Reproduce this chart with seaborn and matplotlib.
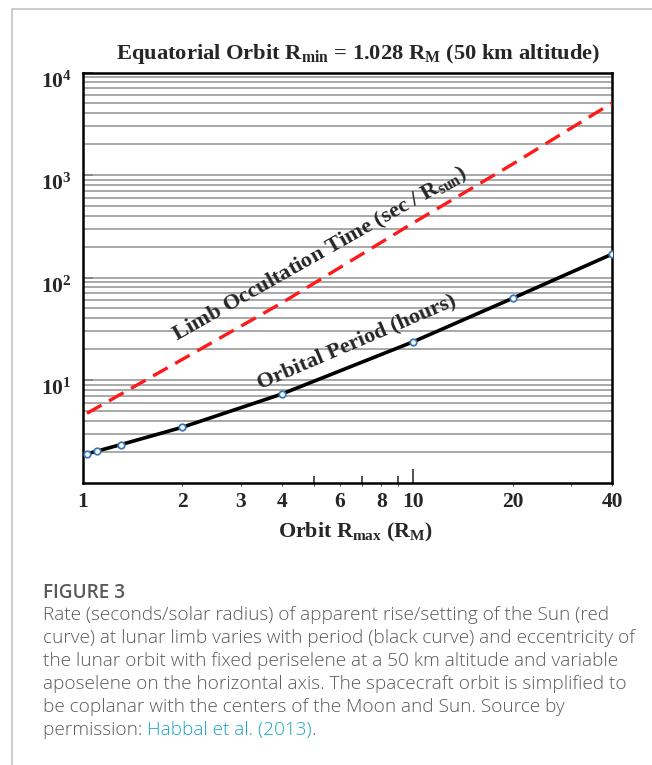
import numpy as np
import pandas as pd
import seaborn as sns
import matplotlib
matplotlib.use("Agg")
import matplotlib.pyplot as plt
from matplotlib.lines import Line2D
from matplotlib.transforms import ScaledTranslation
from matplotlib.ticker import FixedLocator, NullFormatter

# ---------------- data ----------------
period_x = [1.028, 1.1, 1.3, 2, 4, 10, 20, 40]
period_y = [1.90, 2.02, 2.34, 3.46, 7.30, 23.6, 62.7, 169]

occ_x = [1.028, 2, 4, 10, 20, 40]
occ_y = [4.73, 15.9, 56.5, 341, 1277, 5040]

x_ticks = [1, 2, 3, 4, 6, 8, 10, 20, 40]
x_tick_labels = ["1", "2", "3", "4", "6", "8", "10", "20", "40"]
y_ticks = [10, 100, 1000, 10000]
y_tick_labels = [r"$10^{1}$", r"$10^{2}$", r"$10^{3}$", r"$10^{4}$"]

title = r"Equatorial Orbit R$_{\rm min}$ = 1.028 R$_{\rm M}$ (50 km altitude)"
xlabel = r"Orbit R$_{\rm max}$ (R$_{\rm M}$)"
label_occ = r"Limb Occultation Time (sec / R$_{\rm sun}$)"
label_per = "Orbital Period (hours)"

caption_head = "FIGURE 3"
caption_lines = [
    "Rate (seconds/solar radius) of apparent rise/setting of the Sun (red",
    "curve) at lunar limb varies with period (black curve) and eccentricity of",
    "the lunar orbit with fixed periselene at a 50 km altitude and variable",
    "aposelene on the horizontal axis. The spacecraft orbit is simplified to",
    "be coplanar with the centers of the Moon and Sun. Source by",
    "permission: ",
]
caption_link = "Habbal et al. (2013)"
# --------------------------------------------------------------

sns.set_style("ticks")
plt.rcParams["font.family"] = ["Liberation Serif", "DejaVu Serif"]
plt.rcParams["mathtext.fontset"] = "custom"
plt.rcParams["mathtext.rm"] = "Liberation Serif:bold"
plt.rcParams["mathtext.it"] = "Liberation Serif:italic:bold"
plt.rcParams["mathtext.bf"] = "Liberation Serif:bold"

W, H = 652, 765
fig = plt.figure(figsize=(W / 100, H / 100), dpi=100)
fig.patch.set_facecolor("white")

def fx(px):
    return px / W

def fy(py):
    return 1 - py / H

ax = fig.add_axes([fx(83), fy(482.5), fx(612) - fx(83), fy(72.5) - fy(482.5)])
ax.set_xscale("log")
ax.set_yscale("log")
ax.set_xlim(1, 40)
ax.set_ylim(1, 10000)

# horizontal grid at every minor/major decade position
ax.yaxis.set_minor_locator(matplotlib.ticker.LogLocator(base=10, subs=np.arange(2, 10)))
ax.grid(True, which="both", axis="y", color="#a8a8a8", lw=1.4)
ax.grid(False, axis="x", which="both")
ax.set_axisbelow(True)

df_occ = pd.DataFrame({"x": occ_x, "y": occ_y})
df_per = pd.DataFrame({"x": period_x, "y": period_y})

sns.lineplot(data=df_occ, x="x", y="y", ax=ax, color="#ff1a1a", lw=2.4,
             linestyle="--", dashes=False, zorder=3)
ax.lines[-1].set_dashes([5.0, 2.6])
sns.lineplot(data=df_per, x="x", y="y", ax=ax, color="black", lw=2.6, zorder=4)
sns.scatterplot(data=df_per, x="x", y="y", ax=ax, s=22, marker="o",
                facecolor="white", edgecolor="#3a78b8", linewidth=1.3, zorder=5)

# ticks
ax.set_xticks(x_ticks)
ax.set_xticklabels(x_tick_labels)
ax.xaxis.set_minor_locator(FixedLocator([2, 3, 4, 5, 6, 7, 8, 9]))
ax.xaxis.set_minor_formatter(NullFormatter())
ax.tick_params(axis="x", which="major", length=0, pad=7, labelsize=15.5)
ax.tick_params(axis="x", which="minor", length=5, width=1.2, direction="in", color="#333333")
for lab in ax.get_xticklabels():
    lab.set_fontweight("bold")
sec = ax.secondary_xaxis("bottom")
sec.set_xticks([10])
sec.set_xticklabels([""])
sec.tick_params(length=10, width=1.2, direction="in", color="#333333")
sec.spines["bottom"].set_visible(False)

ax.set_yticks(y_ticks)
ax.set_yticklabels(y_tick_labels)
ax.tick_params(axis="y", which="major", length=7, width=1.4, direction="in",
               color="#888888", labelsize=15.5, pad=8)
ax.tick_params(axis="y", which="minor", length=0)
for lab in ax.get_yticklabels():
    lab.set_transform(lab.get_transform() + ScaledTranslation(0, -5 / 72, fig.dpi_scale_trans))

for s in ax.spines.values():
    s.set_color("black")
    s.set_linewidth(1.8)

ax.set_xlabel(xlabel, fontsize=15.8, fontweight="bold")
ax.xaxis.set_label_coords(0.515, -0.093)
ax.set_ylabel("")
ax.set_title(title, fontsize=16.2, fontweight="bold", pad=10, x=0.52)

# curve labels
ax.text(5.22, 166, label_occ, rotation=29.5, rotation_mode="anchor",
        ha="center", va="center", fontsize=16.2, fontweight="bold", zorder=6)
ax.text(6.76, 23.4, label_per, rotation=23.2, rotation_mode="anchor",
        ha="center", va="center", fontsize=16, fontweight="bold", zorder=6)

# page frame lines
fig.add_artist(Line2D([fx(12), fx(12)], [0, fy(9)], transform=fig.transFigure,
                      color="#c4c4c4", lw=1.2))
fig.add_artist(Line2D([fx(12), 1], [fy(9), fy(9)], transform=fig.transFigure,
                      color="#c4c4c4", lw=1.2))

# caption
cap_font = ["Open Sans", "Lato", "DejaVu Sans"]
cap_col = "#5a5a5a"
cap_size = 13.7
fig.text(fx(43), fy(593), caption_head, fontsize=13.7, color=cap_col,
         family=cap_font, fontweight="semibold", va="center", ha="left")
ys = [615, 638, 661, 684, 707, 730]
last = None
for line, yy in zip(caption_lines, ys):
    last = fig.text(fx(43), fy(yy), line, fontsize=cap_size, color=cap_col,
                    family=cap_font, fontweight="light", va="center", ha="left")
fig.canvas.draw()
r = fig.canvas.get_renderer()
bb = last.get_window_extent(r)
link = fig.text(bb.x1 / W, fy(730), caption_link, fontsize=cap_size, color="#1ba1c6",
                family=cap_font, fontweight="light", va="center", ha="left")
fig.canvas.draw()
bb2 = link.get_window_extent(r)
fig.text(bb2.x1 / W, fy(730), ".", fontsize=cap_size, color=cap_col,
         family=cap_font, fontweight="light", va="center", ha="left")

fig.savefig("out.png", dpi=100, facecolor="white")
